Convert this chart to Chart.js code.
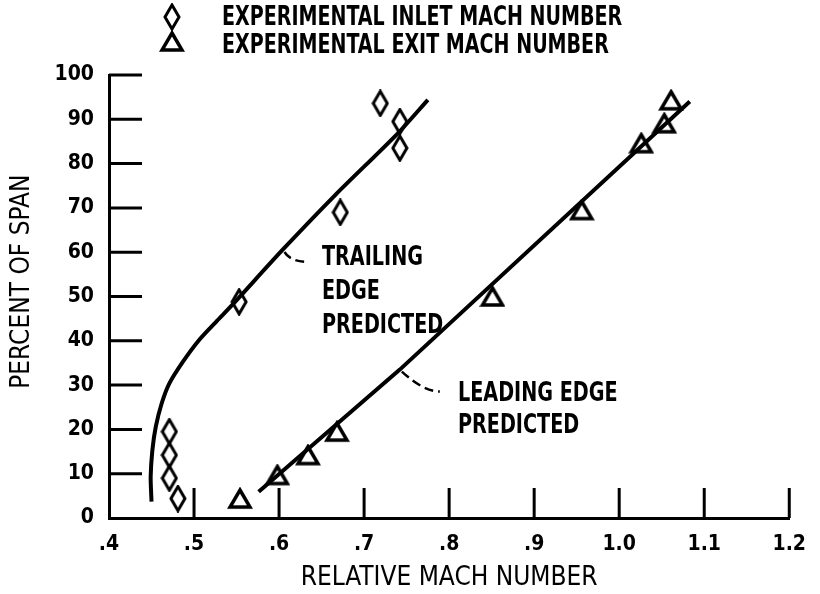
<!DOCTYPE html>
<html>
<head>
<meta charset="utf-8">
<script src="https://cdn.jsdelivr.net/npm/chart.js@4.4.1/dist/chart.umd.min.js"></script>
<style>
  html, body { margin: 0; padding: 0; background: #fff; }
  canvas { display: block; }
</style>
</head>
<body>
<canvas id="machChart" width="820" height="594"></canvas>
<script>
// experimental points
var inletMach = [0.471, 0.471, 0.471, 0.481, 0.553, 0.672, 0.719, 0.742, 0.742];
var inletSpan = [19.5, 14.2, 9.0, 4.4, 48.8, 69, 93.6, 89.5, 83.5];

var exitMach = [0.554, 0.598, 0.634, 0.668, 0.851, 0.956, 1.026, 1.053, 1.061];
var exitSpan = [4.4, 9.7, 14.2, 19.5, 50, 69.5, 84.6, 89.1, 94.3];

// predicted curves
var trailMach = [0.450, 0.449, 0.451, 0.455, 0.462, 0.471, 0.487, 0.506, 0.526, 0.545, 0.604, 0.666, 0.740, 0.775];
var trailSpan = [3.7, 9.3, 15.3, 20.6, 25.9, 30.4, 35.3, 40.2, 44.3, 48.1, 60.5, 72.9, 86.9, 94.4];

var leadMach = [0.576, 0.742, 1.083];
var leadSpan = [5.9, 33.5, 94];

var xTicks = [0.4, 0.5, 0.6, 0.7, 0.8, 0.9, 1.0, 1.1, 1.2];
var yTicks = [0, 10, 20, 30, 40, 50, 60, 70, 80, 90, 100];

var FONT = "'Liberation Sans Narrow', 'DejaVu Sans Condensed', 'Roboto Condensed', 'Liberation Sans', sans-serif";

function pts(xs, ys) {
    return xs.map(function(x, i) { return {x: x, y: ys[i]}; });
}

// hollow tall diamond and open triangle markers
function diamondIcon() {
    var c = document.createElement('canvas');
    c.width = 18; c.height = 28;
    var g = c.getContext('2d');
    g.lineWidth = 3;
    g.strokeStyle = '#000';
    g.beginPath();
    g.moveTo(9, 2); g.lineTo(16, 14); g.lineTo(9, 26); g.lineTo(2, 14);
    g.closePath();
    g.stroke();
    return c;
}
function triangleIcon() {
    var c = document.createElement('canvas');
    c.width = 26; c.height = 23;
    var g = c.getContext('2d');
    g.lineWidth = 3.5;
    g.strokeStyle = '#000';
    g.beginPath();
    g.moveTo(13, 3); g.lineTo(23, 20); g.lineTo(3, 20);
    g.closePath();
    g.stroke();
    return c;
}
var diamond = diamondIcon();
var triangle = triangleIcon();

// condensed bold text for legend and callouts
function narrowText(ctx, str, x, y, sx) {
    ctx.save();
    ctx.translate(x, y);
    ctx.scale(sx || 0.82, 1);
    ctx.fillText(str, 0, 0);
    ctx.restore();
}

// inward tick marks, legend and callouts
var decorations = {
    id: 'decorations',
    afterDraw: function(chart) {
        var ctx = chart.ctx;
        var xs = chart.scales.x, ys = chart.scales.y;
        var area = chart.chartArea;
        ctx.save();
        ctx.strokeStyle = '#000';
        ctx.lineWidth = 3;
        xTicks.slice(1).forEach(function(v) {
            var px = xs.getPixelForValue(v);
            ctx.beginPath();
            ctx.moveTo(px, area.bottom);
            ctx.lineTo(px, area.bottom - 30);
            ctx.stroke();
        });
        yTicks.slice(1).forEach(function(v) {
            var py = ys.getPixelForValue(v);
            ctx.beginPath();
            ctx.moveTo(area.left, py);
            ctx.lineTo(area.left + 33, py);
            ctx.stroke();
        });

        // legend
        ctx.fillStyle = '#000';
        ctx.font = 'bold 27px ' + FONT;
        ctx.textBaseline = 'middle';
        ctx.textAlign = 'left';
        ctx.drawImage(diamond, 172 - 9, 17 - 14);
        narrowText(ctx, chart.data.datasets[0].label, 222, 18, 0.785);
        ctx.drawImage(triangle, 172 - 13, 42 - 12);
        narrowText(ctx, chart.data.datasets[1].label, 222, 46, 0.785);

        // callouts
        ctx.font = 'bold 26px ' + FONT;
        var t = {x: xs.getPixelForValue(0.604), y: ys.getPixelForValue(60.5)};
        narrowText(ctx, 'TRAILING', 322, 258);
        narrowText(ctx, 'EDGE', 322, 292);
        narrowText(ctx, 'PREDICTED', 322, 326);
        var l = {x: xs.getPixelForValue(0.742), y: ys.getPixelForValue(33.5)};
        narrowText(ctx, 'LEADING EDGE', 458, 394);
        narrowText(ctx, 'PREDICTED', 458, 426);

        ctx.lineWidth = 2.5;
        ctx.setLineDash([9, 5]);
        ctx.beginPath();
        ctx.moveTo(t.x + 2, t.y + 2);
        ctx.quadraticCurveTo(t.x + 8, t.y + 12, t.x + 26, t.y + 12);
        ctx.stroke();
        ctx.beginPath();
        ctx.moveTo(l.x + 2, l.y + 2);
        ctx.quadraticCurveTo(l.x + 24, l.y + 22, l.x + 40, l.y + 22);
        ctx.stroke();
        ctx.restore();
    }
};

var ctx = document.getElementById('machChart').getContext('2d');
var chart = new Chart(ctx, {
    type: 'scatter',
    data: {
        datasets: [{
            label: 'EXPERIMENTAL INLET MACH NUMBER',
            data: pts(inletMach, inletSpan),
            pointStyle: diamond,
            pointRadius: 10
        }, {
            label: 'EXPERIMENTAL EXIT MACH NUMBER',
            data: pts(exitMach, exitSpan),
            pointStyle: triangle,
            pointRadius: 10
        }, {
            label: 'Trailing edge predicted',
            data: pts(trailMach, trailSpan),
            showLine: true,
            tension: 0.25,
            borderColor: '#000',
            borderWidth: 4,
            pointRadius: 0
        }, {
            label: 'Leading edge predicted',
            data: pts(leadMach, leadSpan),
            showLine: true,
            tension: 0,
            borderColor: '#000',
            borderWidth: 4,
            pointRadius: 0
        }]
    },
    options: {
        responsive: false,
        animation: false,
        devicePixelRatio: 1,
        layout: { padding: { top: 75, right: 26, left: 0, bottom: 0 } },
        plugins: {
            legend: { display: false },
            tooltip: { enabled: false }
        },
        scales: {
            x: {
                type: 'linear',
                min: 0.4,
                max: 1.2,
                afterBuildTicks: function(scale) {
                    scale.ticks = xTicks.map(function(v) { return {value: v}; });
                },
                afterFit: function(scale) { scale.height = 76; },
                grid: { display: false, drawTicks: false },
                border: { display: true, width: 3, color: '#000' },
                ticks: {
                    color: '#000',
                    padding: 14,
                    maxRotation: 0,
                    font: { family: FONT, size: 21, weight: 'bold' },
                    callback: function(v) {
                        return v < 1 ? '.' + Math.round(v * 10) : v.toFixed(1);
                    }
                },
                title: {
                    display: true,
                    text: 'RELATIVE MACH NUMBER',
                    color: '#000',
                    font: { family: FONT, size: 26 },
                    padding: { top: 0, bottom: 0 }
                }
            },
            y: {
                min: 0,
                max: 100,
                afterBuildTicks: function(scale) {
                    scale.ticks = yTicks.map(function(v) { return {value: v}; });
                },
                afterFit: function(scale) { scale.width = 109; },
                grid: { display: false, drawTicks: false },
                border: { display: true, width: 3, color: '#000' },
                ticks: {
                    color: '#000',
                    padding: 15,
                    font: { family: FONT, size: 21, weight: 'bold' }
                },
                title: {
                    display: true,
                    text: '    PERCENT OF SPAN',
                    color: '#000',
                    font: { family: FONT, size: 26 },
                    padding: { top: 7, bottom: 0 }
                }
            }
        }
    },
    plugins: [decorations]
});
</script>
</body>
</html>
